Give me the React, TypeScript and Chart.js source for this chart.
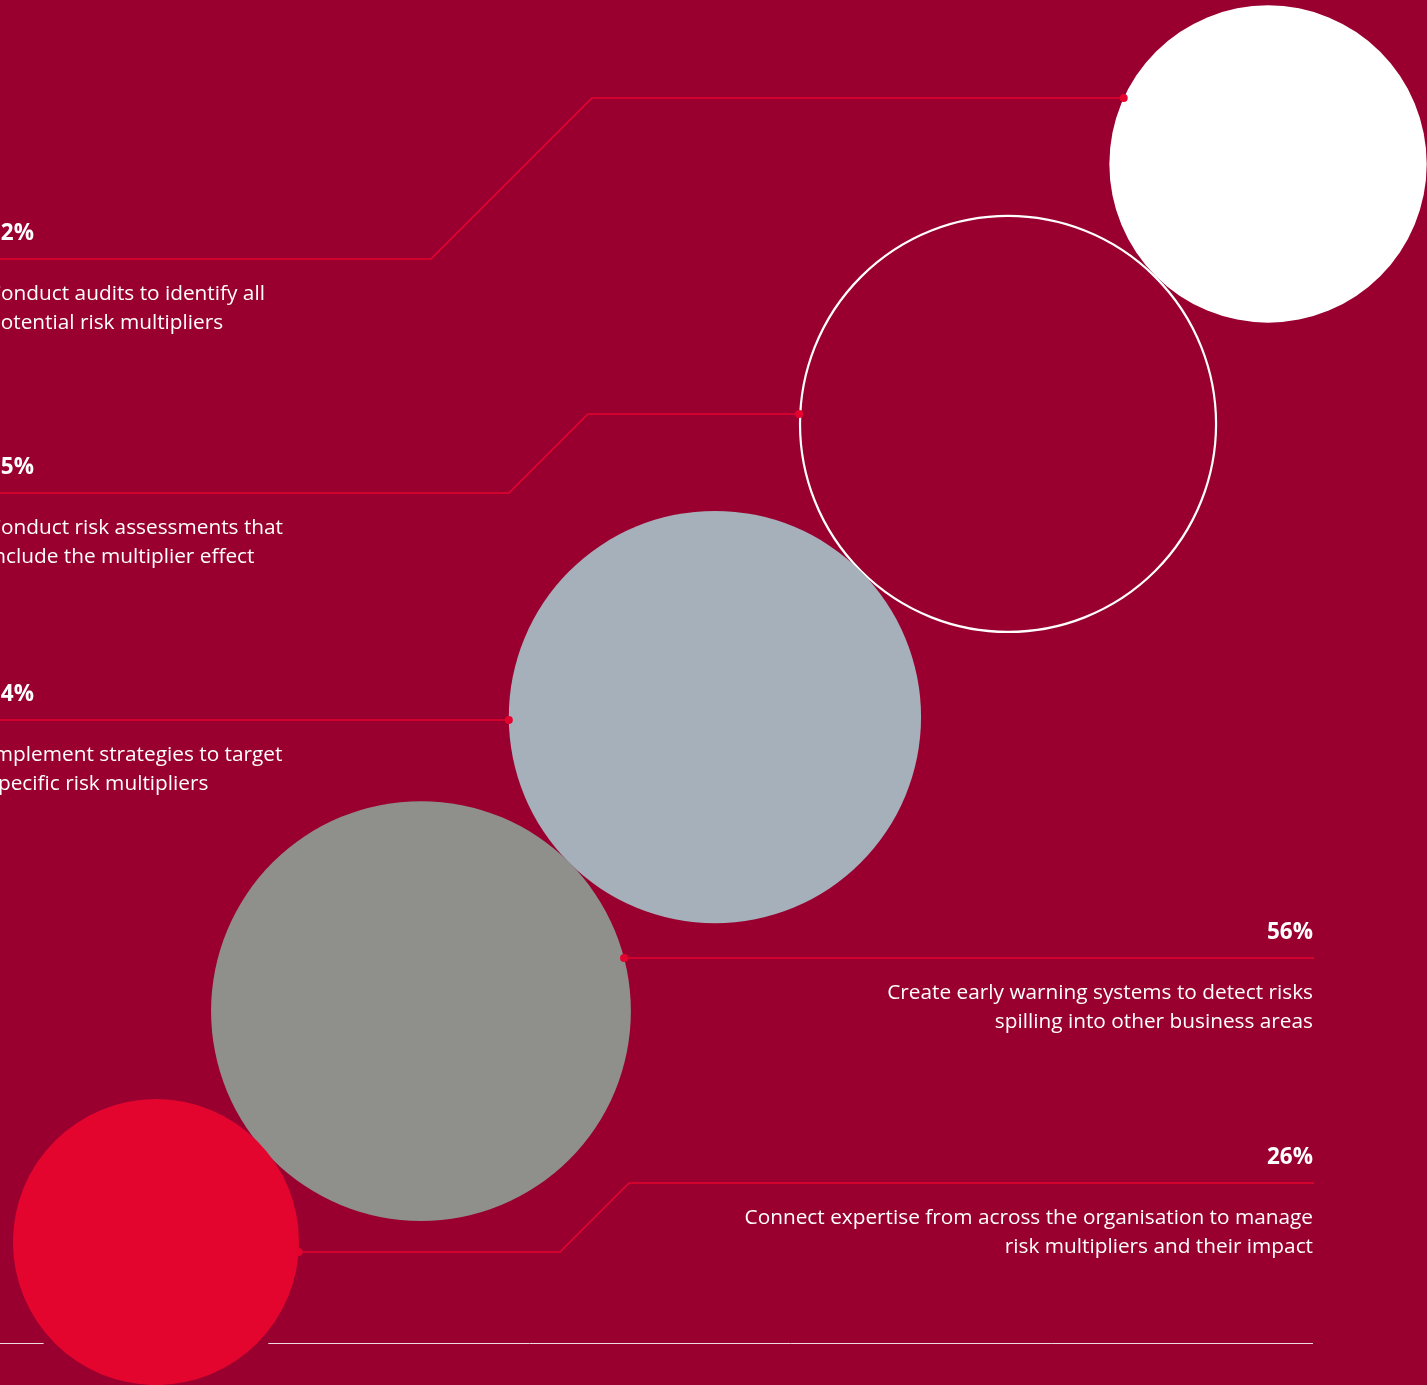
import React, { useEffect, useRef } from "react";
import { Chart, registerables } from "chart.js";

Chart.register(...registerables);

// ---- data ----
const percentLabels = ["32%", "55%", "54%", "56%", "26%"];
const values = [32, 55, 54, 56, 26];
const descriptions = [
  ["Conduct audits to identify all", "potential risk multipliers"],
  ["Conduct risk assessments that", "include the multiplier effect"],
  ["Implement strategies to target", "specific risk multipliers"],
  ["Create early warning systems to detect risks", "spilling into other business areas"],
  ["Connect expertise from across the organisation to manage", "risk multipliers and their impact"],
];
// bubble positions on the (hidden) 0-100 layout axes
const xPos = [88.86, 70.64, 50.1, 29.5, 10.93];
const yPos = [11.84, 30.61, 51.77, 73.0, 89.68];

// ---- styles ----
const BG = "#99002F";
const ACCENT = "#E4032E";
const fills = ["#FFFFFF", "rgba(0,0,0,0)", "#A5B0BA", "#8F8F8B", "#E4052F"];
const borders = ["#FFFFFF", "#FFFFFF", "#A5B0BA", "#8F8F8B", "#E4052F"];
const borderWidths = [0, 2.2, 0, 0, 0];
const RADIUS_K = 28.05;
const FONT = "'Open Sans', Lato, sans-serif";

// leader layout (px): side, y of label rule, elbow x on rule, y of dot on bubble
const leaders = [
  { side: "left", ruleY: 259, elbowX: 431, dotY: 98 },
  { side: "left", ruleY: 493, elbowX: 509, dotY: 414 },
  { side: "left", ruleY: 720, elbowX: null, dotY: 720 },
  { side: "right", ruleY: 958, elbowX: null, dotY: 958 },
  { side: "right", ruleY: 1183, elbowX: 629, dotY: 1252 },
];
const LEFT_TEXT_X = -12;
const RIGHT_X = 1313;

const W = 1427;
const H = 1385;

const overlayPlugin = {
  id: "overlay",
  beforeDraw(chart: any) {
    const ctx = chart.ctx;
    ctx.save();
    ctx.fillStyle = BG;
    ctx.fillRect(0, 0, chart.width, chart.height);
    ctx.restore();
  },
  beforeDatasetsDraw(chart: any) {
    const ctx = chart.ctx;
    const meta = chart.getDatasetMeta(0);
    const el = meta.data[4];
    const r = RADIUS_K * Math.sqrt(values[4]);
    const y = 1343;
    const dy = y - el.y;
    const half = Math.sqrt(Math.max(0, r * r - dy * dy)) + 11;
    ctx.save();
    ctx.strokeStyle = "rgba(255,255,255,0.85)";
    ctx.lineWidth = 1;
    ctx.beginPath();
    ctx.moveTo(0, y + 0.5);
    ctx.lineTo(el.x - half, y + 0.5);
    ctx.moveTo(el.x + half, y + 0.5);
    ctx.lineTo(RIGHT_X, y + 0.5);
    ctx.stroke();
    ctx.restore();
  },
  afterDatasetsDraw(chart: any) {
    const ctx = chart.ctx;
    const meta = chart.getDatasetMeta(0);
    ctx.save();
    leaders.forEach((L, i) => {
      const el = meta.data[i];
      const r = RADIUS_K * Math.sqrt(values[i]) + (borderWidths[i] ? 1 : 0);
      const dy = L.dotY - el.y;
      const dx = Math.sqrt(Math.max(0, r * r - dy * dy));
      const dotX = L.side === "left" ? el.x - dx : el.x + dx;
      const rise = Math.abs(L.ruleY - L.dotY);
      ctx.strokeStyle = ACCENT;
      ctx.lineWidth = 1.6;
      ctx.beginPath();
      if (L.side === "left") {
        ctx.moveTo(0, L.ruleY);
        if (L.elbowX != null) {
          ctx.lineTo(L.elbowX, L.ruleY);
          ctx.lineTo(L.elbowX + rise, L.dotY);
        }
        ctx.lineTo(dotX, L.dotY);
      } else {
        ctx.moveTo(dotX, L.dotY);
        if (L.elbowX != null) {
          ctx.lineTo(L.elbowX - rise, L.dotY);
          ctx.lineTo(L.elbowX, L.ruleY);
        }
        ctx.lineTo(RIGHT_X + 1, L.ruleY);
      }
      ctx.stroke();
      ctx.fillStyle = ACCENT;
      ctx.beginPath();
      ctx.arc(dotX, L.dotY, 4, 0, Math.PI * 2);
      ctx.fill();

      // texts
      ctx.fillStyle = "#FFFFFF";
      ctx.textBaseline = "middle";
      const tx = L.side === "left" ? LEFT_TEXT_X : RIGHT_X;
      ctx.textAlign = L.side === "left" ? "left" : "right";
      ctx.font = `bold 22.5px ${FONT}`;
      ctx.fillText(percentLabels[i], tx, L.ruleY - 25);
      ctx.font = `20.8px ${FONT}`;
      descriptions[i].forEach((line, j) => {
        ctx.fillText(line, tx, L.ruleY + 35.5 + j * 28.5);
      });
    });
    ctx.restore();
  },
};

export default function App() {
  const ref = useRef<HTMLCanvasElement | null>(null);
  useEffect(() => {
    document.body.style.margin = "0";
    document.body.style.background = BG;
    const canvas = ref.current!;
    const chart = new Chart(canvas, {
      type: "bubble",
      data: {
        datasets: [
          {
            data: values.map((v, i) => ({ x: xPos[i], y: yPos[i], r: RADIUS_K * Math.sqrt(v) })),
            backgroundColor: fills,
            borderColor: borders,
            borderWidth: borderWidths,
            hoverRadius: 0,
            clip: false as any,
          } as any,
        ],
      },
      options: {
        responsive: false,
        animation: false,
        devicePixelRatio: 1,
        events: [],
        layout: { padding: 0, autoPadding: false },
        scales: {
          x: { display: false, min: 0, max: 100 },
          y: { display: false, min: 0, max: 100, reverse: true },
        },
        plugins: { legend: { display: false }, tooltip: { enabled: false } },
      },
      plugins: [overlayPlugin],
    });
    return () => chart.destroy();
  }, []);
  return (
    <div style={{ width: W, height: H, background: BG }}>
      <canvas ref={ref} width={W} height={H} style={{ display: "block", width: W, height: H }} />
    </div>
  );
}
